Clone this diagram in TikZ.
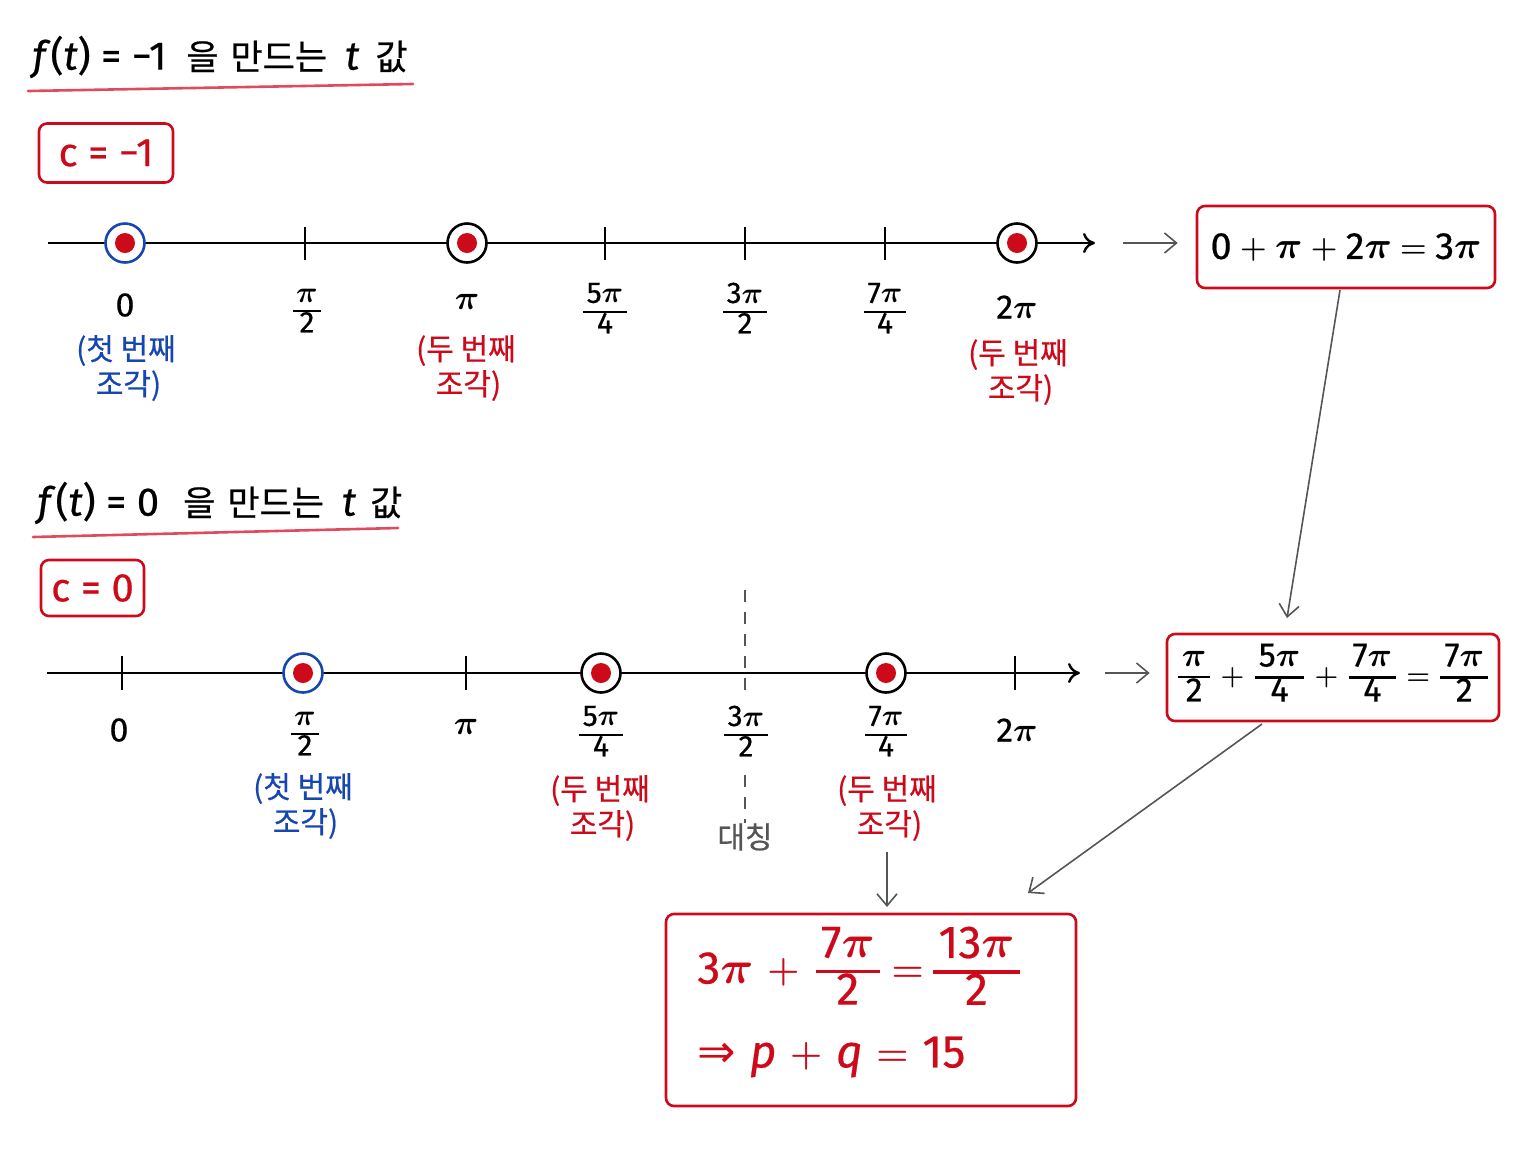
\RequirePackage{fix-cm}
\documentclass[tikz,border=0pt]{standalone}
\usepackage{amsmath}
\usepackage{graphicx}
\usepackage{fontspec}
\setmainfont[FakeBold=0.5]{Fira Sans}
\newfontfamily\kr[FakeBold=0.6]{Noto Sans CJK KR}
\newfontfamily\dvs{DejaVu Sans}
\usetikzlibrary{arrows.meta,calc}
\definecolor{bred}{HTML}{CC0A1A}
\definecolor{bblue}{HTML}{1646B0}
\definecolor{uline}{HTML}{E04A5E}
\definecolor{agray}{HTML}{555555}
\newcommand{\pp}{\ensuremath{\boldsymbol{\pi}}}
\newcommand{\opl}{\raisebox{0.05em}{\scalebox{0.8}{$\boldsymbol{+}$}}}
\newcommand{\oeq}{\raisebox{0.05em}{\scalebox{0.8}{$\boldsymbol{=}$}}}
\newcommand{\fr}[2]{\ensuremath{\vcenter{\hbox{\setlength\arrayrulewidth{0.07em}\renewcommand\arraystretch{0.8}\begin{tabular}{@{\hspace{0.12em}}c@{\hspace{0.12em}}}#1\\\hline #2\end{tabular}}}}}
\begin{document}
\begin{tikzpicture}[x=0.5pt,y=-0.5pt,
  titletext/.style={anchor=west,inner sep=0pt,font=\fontsize{20}{24}\selectfont},
  underl/.style={draw=uline,line width=1.3pt,line cap=round},
  cbox/.style={draw=bred,line width=1.3pt,rounded corners=4pt,text=bred,inner sep=0pt},
  axisline/.style={line width=1.3pt,-{To[length=6pt,width=10pt,line width=1.2pt]}},
  tickm/.style={line width=1.2pt},
  ringb/.style={circle,draw=black,line width=1.3pt,fill=white,minimum size=19.5pt,inner sep=0pt},
  ringblue/.style={ringb,draw=bblue},
  rdot/.style={circle,fill=bred,minimum size=10pt,inner sep=0pt},
  lab/.style={inner sep=0pt,font=\fontsize{17}{20}\selectfont},
  flab/.style={inner sep=0pt,font=\fontsize{15}{16.5}\selectfont},
  note/.style={inner sep=0pt,align=center,font=\kr\fontsize{15}{17.5}\selectfont},
  conn/.style={draw=agray,line width=0.8pt,-{Straight Barb[length=6pt,width=10pt,line width=0.8pt]}},
]
\useasboundingbox (0,0) rectangle (1536,1152);

% ---------- Section 1 ----------
\node[titletext] (t1) at (32,57) {\textit{f}(\textit{t}) = −1\hspace{10pt}{\kr\fontsize{17.5}{20}\selectfont 을\hspace{6pt}만드는}\hspace{9pt}\textit{t}\hspace{8pt}{\kr\fontsize{17.5}{20}\selectfont 값}};
\coordinate (u1a) at (28,91);
\coordinate (u1b) at (413,84);
\draw[underl] (u1a) -- (u1b);
\node[cbox,minimum width=67pt,minimum height=29.5pt] (c1) at (106,153) {\fontsize{20}{24}\selectfont c = −1};

\coordinate (a1s) at (48,243);
\coordinate (a1e) at (1095,243);
\draw[axisline] (a1s) -- (a1e);
\foreach \x/\n in {305/k1, 605/k2, 745/k3, 885/k4}{
  \coordinate (\n t) at (\x,227);
  \coordinate (\n b) at (\x,260);
  \draw[tickm] (\n t) -- (\n b);
}
\node[ringblue] (p1) at (125,243) {};
\node[rdot] at (p1.center) {};
\node[ringb] (p2) at (467,243) {};
\node[rdot] at (p2.center) {};
\node[ringb] (p3) at (1017,243) {};
\node[rdot] at (p3.center) {};

\node[lab] (l0) at (125,305) {0};
\node[flab] (l12) at (307,312) {\fr{\pp}{2}};
\node[lab] (l1) at (467,302) {\pp};
\node[flab] (l54) at (605,312) {\fr{5\pp}{4}};
\node[flab] (l32) at (745,312) {\fr{3\pp}{2}};
\node[flab] (l74) at (885,312) {\fr{7\pp}{4}};
\node[lab] (l2) at (1017,307) {2\pp};

\node[note,text=bblue] (n1) at (126,368) {(첫 번째\\\,조각)};
\node[note,text=bred] (n2) at (466,368) {(두 번째\\\,조각)};
\node[note,text=bred] (n3) at (1018,372) {(두 번째\\\,조각)};

\coordinate (s1a) at (1123,243);
\node[cbox,minimum width=149pt,minimum height=41pt,text=black] (b1) at (1346,247) {\fontsize{19}{22}\selectfont 0\hspace{0.22em}\opl\hspace{0.22em}\pp\hspace{0.22em}\opl\hspace{0.22em}2\pp\hspace{0.22em}\oeq\hspace{0.22em}3\pp};
\draw[conn,shorten >=9pt] (s1a) -- (s1a -| b1.west);

% ---------- Section 2 ----------
\node[titletext] (t2) at (37,503) {\textit{f}(\textit{t}) = 0\hspace{12pt}{\kr\fontsize{17.5}{20}\selectfont 을\hspace{6pt}만드는}\hspace{9pt}\textit{t}\hspace{7pt}{\kr\fontsize{17.5}{20}\selectfont 값}};
\coordinate (u2a) at (33,537);
\coordinate (u2b) at (398,528);
\draw[underl] (u2a) -- (u2b);
\node[cbox,minimum width=51.5pt,minimum height=28pt] (c2) at (92.5,588) {\fontsize{20}{24}\selectfont c = 0};

\coordinate (a2s) at (47,673);
\coordinate (a2e) at (1080,673);
\draw[axisline] (a2s) -- (a2e);
\foreach \x/\n in {122/m1, 466/m2, 1015/m3}{
  \coordinate (\n t) at (\x,656);
  \coordinate (\n b) at (\x,690);
  \draw[tickm] (\n t) -- (\n b);
}
\node[ringblue] (q1) at (303,673) {};
\node[rdot] at (q1.center) {};
\node[ringb] (q2) at (601,673) {};
\node[rdot] at (q2.center) {};
\node[ringb] (q3) at (886,673) {};
\node[rdot] at (q3.center) {};

\node[lab] (m0) at (119,730) {0};
\node[flab] (m12) at (305,735) {\fr{\pp}{2}};
\node[lab] (m1) at (466,727) {\pp};
\node[flab] (m54) at (601,735) {\fr{5\pp}{4}};
\node[flab] (m32) at (746,735) {\fr{3\pp}{2}};
\node[flab] (m74) at (886,735) {\fr{7\pp}{4}};
\node[lab] (m2) at (1017,730) {2\pp};

\coordinate (sym0) at (745,590);
\coordinate (sym1) at (745,692);
\coordinate (sym2) at (745,775);
\node[note,text=agray] (dc) at (745,837) {대칭};
\draw[agray,line width=1pt,dash pattern=on 6pt off 5pt] (sym0) -- (sym1);
\draw[agray,line width=1pt,dash pattern=on 6pt off 5pt] (sym2) -- (dc.north);

\node[note,text=bblue] (o1) at (303,806) {(첫 번째\\\,조각)};
\node[note,text=bred] (o2) at (600,808) {(두 번째\\\,조각)};
\node[note,text=bred] (o3) at (887,808) {(두 번째\\\,조각)};

\coordinate (s2a) at (1105,673);
\node[cbox,minimum width=166pt,minimum height=43.5pt,text=black] (b2) at (1333,677.5) {\fontsize{17}{20}\selectfont \fr{\pp}{2}\hspace{0.3em}\opl\hspace{0.3em}\fr{5\pp}{4}\hspace{0.3em}\opl\hspace{0.3em}\fr{7\pp}{4}\hspace{0.3em}\oeq\hspace{0.3em}\fr{7\pp}{2}};
\draw[conn,shorten >=8pt] (s2a) -- (s2a -| b2.west);

% ---------- connectors between boxes ----------
\coordinate (c1s) at (1340,290);
\coordinate (c1e) at (1287,618);
\draw[conn] (c1s) -- (c1e);
\coordinate (c2s) at (1262,724);
\coordinate (c2e) at (1028,893);
\draw[conn] (c2s) -- (c2e);
\coordinate (c3s) at (887,852);
\coordinate (c3e) at (887,907);
\draw[conn] (c3s) -- (c3e);

% ---------- final box ----------
\node[cbox,minimum width=205pt,minimum height=96pt] (fb) at (871,1010) {};
\node[anchor=west,inner sep=0pt,text=bred,font=\fontsize{23}{26}\selectfont] (fl1) at (697,972) {3\pp\hspace{0.3em}\opl\hspace{0.35em}\fr{7\pp}{2}\hspace{0.25em}\oeq\hspace{0.2em}\fr{13\pp}{2}};
\node[anchor=west,inner sep=0pt,text=bred,font=\fontsize{23}{26}\selectfont] (fl2) at (697,1057) {{\dvs ⇒}\hspace{0.3em}\textit{p}\hspace{0.3em}\opl\hspace{0.3em}\textit{q}\hspace{0.3em}\oeq\hspace{0.3em}15};
\end{tikzpicture}
\end{document}
